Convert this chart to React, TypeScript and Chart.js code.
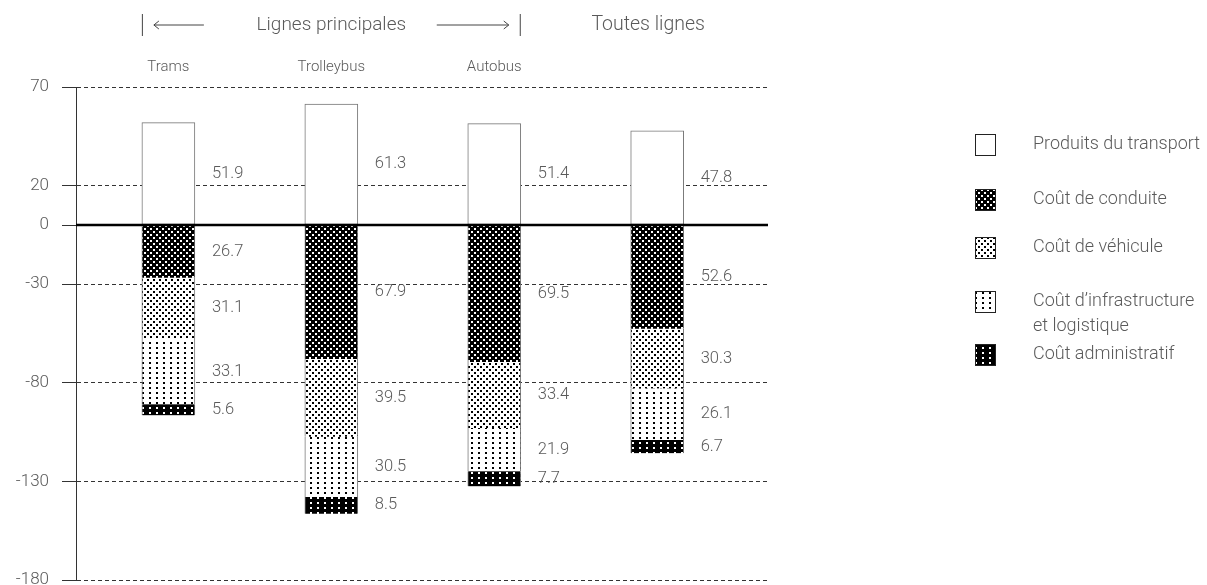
import React, { useEffect, useRef } from "react";
import { Chart, registerables } from "chart.js";

Chart.register(...registerables);

// ---- data ----
const categories = ["Trams", "Trolleybus", "Autobus", "Toutes lignes"];
const groupTitle = "Lignes principales";
const produits = [51.9, 61.3, 51.4, 47.8];
const conduite = [26.7, 67.9, 69.5, 52.6];
const vehicule = [31.1, 39.5, 33.4, 30.3];
const infrastructure = [33.1, 30.5, 21.9, 26.1];
const administratif = [5.6, 8.5, 7.7, 6.7];
const seriesNames = [
  "Produits du transport",
  "Coût de conduite",
  "Coût de véhicule",
  "Coût d’infrastructure\net logistique",
  "Coût administratif",
];
const yTicks = [70, 20, 0, -30, -80, -130, -180];

const FONT = "Roboto, 'Liberation Sans', Arial, sans-serif";
const TEXT = "#5a5a5a";

function makePattern(
  ctx: CanvasRenderingContext2D,
  w: number,
  h: number,
  bg: string,
  fg: string,
  dots: [number, number][],
  size: number
) {
  const c = document.createElement("canvas");
  c.width = w;
  c.height = h;
  const x = c.getContext("2d")!;
  x.fillStyle = bg;
  x.fillRect(0, 0, w, h);
  x.fillStyle = fg;
  dots.forEach(([a, b]) => x.fillRect(a, b, size, size));
  return ctx.createPattern(c, "repeat")!;
}

export default function App() {
  const ref = useRef<HTMLCanvasElement>(null);

  useEffect(() => {
    document.body.style.margin = "0";
    const canvas = ref.current!;
    const ctx = canvas.getContext("2d")!;

    const pConduite = makePattern(ctx, 6, 6, "#000", "#fff", [[0, 0], [3, 3]], 2);
    const pVehicule = makePattern(ctx, 6, 6, "#fff", "#000", [[0, 0], [3, 3]], 2);
    const pInfra = makePattern(ctx, 7, 5, "#fff", "#000", [[2, 2]], 2);
    const pAdmin = makePattern(ctx, 7, 5, "#000", "#fff", [[2, 2]], 2);
    const fills: (string | CanvasPattern)[] = ["#fff", pConduite, pVehicule, pInfra, pAdmin];

    const seriesValues = [
      produits,
      conduite.map((v) => -v),
      vehicule.map((v) => -v),
      infrastructure.map((v) => -v),
      administratif.map((v) => -v),
    ];

    const BAR = 53;

    const overlay = {
      id: "overlay",
      afterDatasetsDraw(chart: any) {
        const c = chart.ctx as CanvasRenderingContext2D;
        const { chartArea } = chart;
        const xs = chart.scales.x;
        const ys = chart.scales.y;
        c.save();

        // zero line
        c.strokeStyle = "#000";
        c.lineWidth = 2.5;
        c.beginPath();
        c.moveTo(chartArea.left, ys.getPixelForValue(0));
        c.lineTo(chartArea.right, ys.getPixelForValue(0));
        c.stroke();

        // value labels
        c.fillStyle = TEXT;
        c.font = `300 16.5px ${FONT}`;
        c.textAlign = "left";
        c.textBaseline = "middle";
        chart.data.datasets.forEach((ds: any, di: number) => {
          const meta = chart.getDatasetMeta(di);
          meta.data.forEach((el: any, i: number) => {
            const mid = (el.y + el.base) / 2;
            const v = Math.abs(ds.data[i].y).toFixed(1);
            c.fillText(v, el.x + BAR / 2 + 17, mid);
          });
        });

        // header
        const left = xs.getPixelForValue(0) - BAR / 2;
        const right = xs.getPixelForValue(2) + BAR / 2;
        const hy = 25;
        c.strokeStyle = "#444";
        c.lineWidth = 1;
        c.beginPath();
        c.moveTo(left + 0.5, hy - 11);
        c.lineTo(left + 0.5, hy + 11);
        c.moveTo(right - 0.5, hy - 11);
        c.lineTo(right - 0.5, hy + 11);
        // left arrow
        c.moveTo(left + 12, hy);
        c.lineTo(left + 62, hy);
        c.moveTo(left + 12, hy);
        c.lineTo(left + 17, hy - 4);
        c.moveTo(left + 12, hy);
        c.lineTo(left + 17, hy + 4);
        // right arrow
        c.moveTo(right - 84, hy);
        c.lineTo(right - 12, hy);
        c.moveTo(right - 12, hy);
        c.lineTo(right - 17, hy - 4);
        c.moveTo(right - 12, hy);
        c.lineTo(right - 17, hy + 4);
        c.stroke();

        c.fillStyle = TEXT;
        c.font = `300 19px ${FONT}`;
        c.textAlign = "center";
        c.fillText(groupTitle, xs.getPixelForValue(1), hy);
        c.font = `300 19.5px ${FONT}`;
        c.fillText(categories[3], xs.getPixelForValue(3) - 9, hy);

        c.font = `300 15px ${FONT}`;
        for (let i = 0; i < 3; i++) {
          c.fillText(categories[i], xs.getPixelForValue(i), 67);
        }

        // legend
        const legendY = [144, 199, 247, 301, 354];
        const boxX = 975;
        const textX = 1033;
        c.textAlign = "left";
        c.font = `300 18px ${FONT}`;
        seriesNames.forEach((name, i) => {
          const y = legendY[i];
          c.fillStyle = fills[i] as any;
          c.fillRect(boxX, y - 10, 20, 21);
          c.strokeStyle = "#222";
          c.lineWidth = 1;
          c.strokeRect(boxX + 0.5, y - 9.5, 20, 21);
          c.fillStyle = TEXT;
          name.split("\n").forEach((line, k) => {
            c.fillText(line, textX, y + k * 25);
          });
        });

        c.restore();
      },
    };

    const chart = new Chart(canvas, {
      type: "bar",
      data: {
        datasets: seriesValues.map((vals, di) => ({
          label: seriesNames[di],
          data: vals.map((v, i) => ({ x: i, y: v })),
          backgroundColor: fills[di] as any,
          borderColor: "#777",
          borderWidth: di === 0 ? 1 : { left: 1, right: 1, top: 0, bottom: 0 },
          borderSkipped: false,
          barThickness: BAR,
        })),
      },
      options: {
        responsive: false,
        animation: false,
        layout: { padding: { top: 87, right: 439, bottom: 5, left: 0 } },
        plugins: {
          legend: { display: false },
          tooltip: { enabled: false },
        },
        scales: {
          x: {
            type: "linear",
            min: -0.567,
            max: 3.68,
            offset: false,
            stacked: true,
            display: false,
            grid: { offset: false },
          },
          y: {
            stacked: true,
            min: -180,
            max: 70,
            afterBuildTicks: (scale: any) => {
              scale.ticks = yTicks.map((v) => ({ value: v }));
            },
            afterFit: (scale: any) => {
              scale.width = 76;
              scale.paddingTop = 0;
              scale.paddingBottom = 0;
            },
            ticks: {
              color: TEXT,
              padding: 13,
              font: { family: FONT, size: 17, weight: "300" as any },
              callback: (v: any) => String(v),
            },
            grid: {
              color: (c: any) => (c.tick && c.tick.value === 0 ? "rgba(0,0,0,0)" : "#333"),
              lineWidth: 1,
              tickLength: 14,
              tickColor: "#333",
              tickBorderDash: [],
            },
            border: {
              display: true,
              color: "#333",
              width: 1,
              dash: (c: any) => (c.tick ? [4, 3] : []),
            },
          },
        },
      },
      plugins: [overlay],
    } as any);

    return () => chart.destroy();
  }, []);

  return (
    <div style={{ width: 1207, height: 585 }}>
      <canvas ref={ref} width={1207} height={585} style={{ width: 1207, height: 585, display: "block" }} />
    </div>
  );
}
